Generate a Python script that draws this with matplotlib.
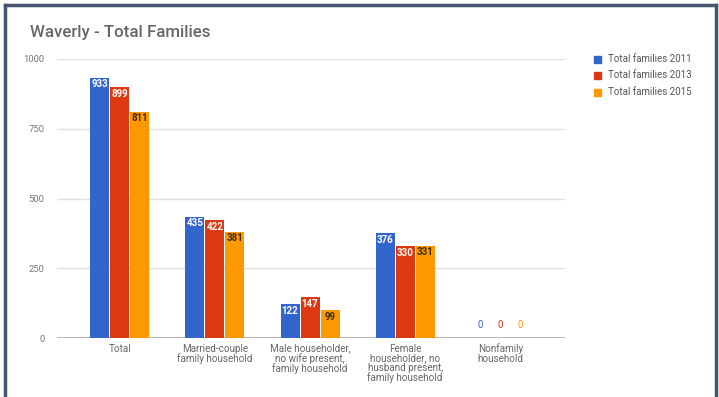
import matplotlib
matplotlib.use("Agg")
import matplotlib.pyplot as plt
from matplotlib.lines import Line2D
from matplotlib.patches import Rectangle
import numpy as np

plt.rcParams['font.family'] = ['Roboto', 'DejaVu Sans']

categories = [
    "Total",
    "Married-couple\nfamily household",
    "Male householder,\nno wife present,\nfamily household",
    "Female\nhouseholder, no\nhusband present,\nfamily household",
    "Nonfamily\nhousehold",
]
series_names = ["Total families 2011", "Total families 2013", "Total families 2015"]
families_2011 = [933, 435, 122, 376, 0]
families_2013 = [899, 422, 147, 330, 0]
families_2015 = [811, 381, 99, 331, 0]
yticks = [0, 250, 500, 750, 1000]

colors = ["#3366cc", "#dc3912", "#ff9900"]
label_colors = ["white", "white", "#3a2a00"]

W, H = 719, 397
fig = plt.figure(figsize=(W / 100, H / 100), dpi=100)
fig.patch.set_facecolor("white")

ax = fig.add_axes([57 / W, 1 - 338 / H, (565 - 57) / W, (338 - 59) / H])
x = np.arange(len(categories))
bar_w = 0.2
offsets = [-0.21, 0.0, 0.21]
all_series = [families_2011, families_2013, families_2015]

for vals, off, col, lcol, name in zip(all_series, offsets, colors, label_colors, series_names):
    bars = ax.bar(x + off, vals, width=bar_w, color=col, label=name, zorder=3)
    for b, v in zip(bars, vals):
        cx = b.get_x() + b.get_width() / 2
        if v > 40:
            ax.text(cx, v - 6, f"{v}", ha="center", va="top", fontsize=7,
                    fontweight="bold", color=lcol, zorder=4)
        else:
            ax.text(cx, v + 30, f"{v}", ha="center", va="bottom", fontsize=7,
                    color=col, zorder=4)

ax.set_xlim(-0.66, 4.68)
ax.set_ylim(0, 1000)
ax.set_yticks(yticks)
ax.set_yticklabels([str(t) for t in yticks], fontsize=6.8, color="#777777")
ax.set_xticks(x)
ax.set_xticklabels(categories, fontsize=7.1, color="#666666", linespacing=0.95)
ax.tick_params(axis="both", length=0)
ax.tick_params(axis="y", pad=9)
ax.tick_params(axis="x", pad=4)
for s in ["top", "right", "left", "bottom"]:
    ax.spines[s].set_visible(False)
ax.grid(axis="y", color="#e0e0e0", linewidth=1, zorder=0)
ax.axhline(0, color="#aaaaaa", linewidth=1.2, zorder=2)

fig.text(30 / W, 1 - 33 / H, "Waverly - Total Families", fontsize=12.2,
         color="#666666", va="center", ha="left", fontweight="medium")

# legend
for i, (name, col) in enumerate(zip(series_names, colors)):
    yy = 59 + i * 16.5
    fig.add_artist(Rectangle((594 / W, 1 - (yy + 3.5) / H), 7 / W, 7 / H,
                             transform=fig.transFigure, color=col))
    fig.text(608 / W, 1 - yy / H, name, fontsize=7, color="#555555",
             va="center", ha="left")

# frame
frame_col = "#47566f"
fig.add_artist(Line2D([5 / W, 5 / W], [0, 1 - 5 / H], transform=fig.transFigure,
                      color=frame_col, linewidth=2.5))
fig.add_artist(Line2D([5 / W, 716 / W], [1 - 5 / H, 1 - 5 / H], transform=fig.transFigure,
                      color=frame_col, linewidth=2.5))
fig.add_artist(Line2D([716 / W, 716 / W], [0, 1 - 5 / H], transform=fig.transFigure,
                      color=frame_col, linewidth=2.5))

fig.savefig("out.png", dpi=100)
